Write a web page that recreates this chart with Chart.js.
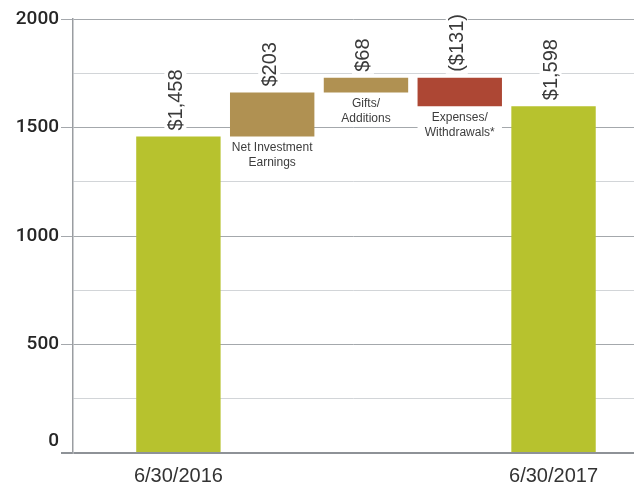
<!DOCTYPE html>
<html>
<head>
<meta charset="utf-8">
<script src="https://cdn.jsdelivr.net/npm/chart.js@4.4.1/dist/chart.umd.min.js"></script>
<style>
  html, body { margin: 0; padding: 0; background: #fff; }
</style>
</head>
<body>
<canvas id="chart" width="634" height="486"></canvas>
<script>
// waterfall: start / end of every bar, in $ millions
const categories = ['6/30/2016', ['Net Investment', 'Earnings'], ['Gifts/', 'Additions'], ['Expenses/', 'Withdrawals*'], '6/30/2017'];
const barStart = [0, 1458, 1661, 1598, 0];
const barEnd = [1458, 1661, 1729, 1729, 1598];
const valueLabels = ['$1,458', '$203', '$68', '($131)', '$1,598'];
const barColors = ['#b7c22e', '#b09152', '#b09152', '#ad4734', '#b7c22e'];
const yTickLabels = [0, 500, 1000, 1500, 2000];
const axisCategories = [1, 5];

const FONT = '"Liberation Sans", Arial, sans-serif';

const barLabels = {
  id: 'barLabels',
  afterDatasetsDraw(chart) {
    const ctx = chart.ctx;
    const meta = chart.getDatasetMeta(0);
    meta.data.forEach((bar, i) => {
      const top = Math.min(bar.y, bar.base);
      const bottom = Math.max(bar.y, bar.base);

      // value above the bar, rotated
      ctx.save();
      ctx.font = '20px ' + FONT;
      const w = ctx.measureText(valueLabels[i]).width;
      ctx.translate(bar.x - 3, top - 6);
      ctx.rotate(-Math.PI / 2);
      ctx.fillStyle = '#fff';
      ctx.fillRect(-2, -11, w + 4, 22);
      ctx.fillStyle = '#3a3a3a';
      ctx.textAlign = 'left';
      ctx.textBaseline = 'middle';
      ctx.fillText(valueLabels[i], 0, 1);
      ctx.restore();

      // change bars get their name underneath
      const lines = categories[i];
      if (Array.isArray(lines)) {
        ctx.save();
        const first = bottom + 11.5;
        const last = first + 15 * (lines.length - 1);
        ctx.fillStyle = '#fff';
        ctx.fillRect(bar.x - bar.width / 2, bottom + 1, bar.width, last + 5 - bottom - 1);
        ctx.font = '12px ' + FONT;
        ctx.fillStyle = '#3d3d3d';
        ctx.textAlign = 'center';
        ctx.textBaseline = 'middle';
        lines.forEach((line, k) => ctx.fillText(line, bar.x, first + 15 * k));
        ctx.restore();
      }
    });
  }
};

const gridColor = (ctx) => {
  const v = ctx.tick.value;
  if (v === 0) return '#8e9297';
  return yTickLabels.includes(v) ? '#a4a8ac' : '#d2d5d8';
};

new Chart(document.getElementById('chart'), {
  type: 'bar',
  data: {
    datasets: [{
      data: barStart.map((s, i) => ({ x: i + 1, y: [s, barEnd[i]] })),
      backgroundColor: barColors,
      borderWidth: 0,
      categoryPercentage: 1,
      barPercentage: 0.9
    }]
  },
  options: {
    responsive: false,
    animation: false,
    devicePixelRatio: 1,
    layout: { padding: { top: 19, right: 0, bottom: 0, left: 0 } },
    plugins: { legend: { display: false }, tooltip: { enabled: false } },
    scales: {
      x: {
        type: 'linear',
        offset: false,
        min: -0.124,
        max: 5.858,
        grid: { display: false },
        border: { display: false },
        afterBuildTicks: (scale) => { scale.ticks = axisCategories.map(v => ({ value: v })); },
        afterFit: (scale) => { scale.height = 33; },
        ticks: {
          padding: 3,
          color: '#333',
          font: { family: FONT, size: 20 },
          callback: (v) => categories[v - 1]
        }
      },
      y: {
        min: 0,
        max: 2000,
        afterFit: (scale) => { scale.width = 73; },
        border: { display: true, color: '#9a9da1', width: 1.5 },
        grid: {
          color: gridColor,
          lineWidth: (ctx) => ctx.tick.value === 0 ? 2 : 1,
          tickColor: (ctx) => yTickLabels.includes(ctx.tick.value) ? gridColor(ctx) : 'rgba(0,0,0,0)',
          tickLength: 12
        },
        ticks: {
          stepSize: 250,
          padding: 2,
          color: '#262626',
          font: { family: 'Roboto, ' + FONT, size: 19, weight: 500 },
          // the zero label sits a little above the baseline
          callback: (v) => v === 0 ? ['0', ''] : (yTickLabels.includes(v) ? String(v) : '')
        }
      }
    }
  },
  plugins: [barLabels]
});
</script>
</body>
</html>
